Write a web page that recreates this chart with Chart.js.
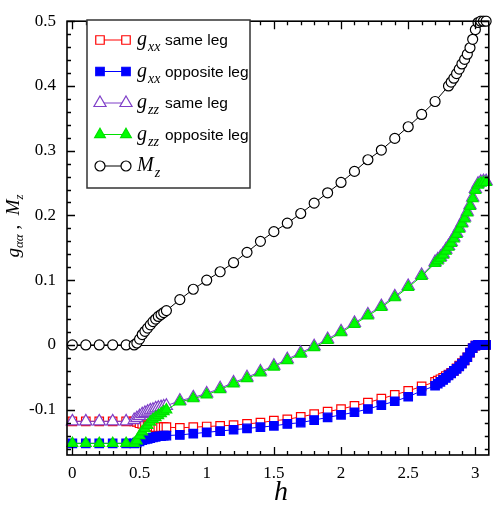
<!DOCTYPE html>
<html>
<head>
<meta charset="utf-8">
<script src="https://cdn.jsdelivr.net/npm/chart.js@4/dist/chart.umd.min.js"></script>
<style>
  html, body { margin: 0; padding: 0; background: #ffffff; }
  #wrap { width: 497px; height: 508px; }
</style>
</head>
<body>
<div id="wrap"><canvas id="c" width="497" height="508"></canvas></div>
<script>
// Field h for the correlation curves
const hG = [0, 0.1, 0.2, 0.3, 0.4,
  0.46, 0.48, 0.5, 0.52, 0.54, 0.56, 0.58, 0.6, 0.62, 0.64, 0.66, 0.68, 0.7,
  0.8, 0.9, 1.0, 1.1, 1.2, 1.3, 1.4, 1.5, 1.6, 1.7, 1.8, 1.9, 2.0, 2.1, 2.2, 2.3, 2.4, 2.5, 2.6, 2.7,
  2.72, 2.74, 2.76, 2.78, 2.8, 2.82, 2.84, 2.86, 2.88, 2.9, 2.92, 2.94, 2.96, 2.98, 3.0, 3.02, 3.04, 3.06, 3.08];

const gxxSame = [-0.118, -0.118, -0.118, -0.118, -0.118,
  -0.118, -0.119, -0.121, -0.122, -0.124, -0.125, -0.126, -0.126, -0.127, -0.127, -0.127, -0.127, -0.127,
  -0.128, -0.127, -0.126, -0.125, -0.124, -0.122, -0.120, -0.117, -0.115, -0.111, -0.107, -0.103, -0.099, -0.094, -0.089, -0.083, -0.077, -0.071, -0.064, -0.057,
  -0.055, -0.053, -0.051, -0.048, -0.046, -0.043, -0.040, -0.036, -0.032, -0.028, -0.024, -0.019, -0.012, -0.005, -0.001, 0, 0, 0, 0];

const gxxOpp = [-0.152, -0.152, -0.152, -0.152, -0.152,
  -0.152, -0.151, -0.149, -0.147, -0.146, -0.145, -0.144, -0.143, -0.142, -0.141, -0.141, -0.140, -0.140,
  -0.139, -0.137, -0.135, -0.133, -0.131, -0.129, -0.127, -0.125, -0.122, -0.120, -0.116, -0.112, -0.108, -0.104, -0.099, -0.093, -0.087, -0.080, -0.071, -0.063,
  -0.060, -0.057, -0.054, -0.051, -0.047, -0.044, -0.040, -0.037, -0.033, -0.029, -0.024, -0.019, -0.012, -0.005, -0.001, 0, 0, 0, 0];

const gzzSame = [-0.118, -0.118, -0.118, -0.118, -0.118,
  -0.116, -0.113, -0.110, -0.107, -0.105, -0.103, -0.101, -0.100, -0.098, -0.097, -0.096, -0.095, -0.094,
  -0.086, -0.081, -0.075, -0.067, -0.058, -0.050, -0.041, -0.032, -0.022, -0.012, -0.002, 0.009, 0.021, 0.034, 0.047, 0.060, 0.075, 0.091, 0.108, 0.128,
  0.132, 0.136, 0.141, 0.147, 0.153, 0.159, 0.166, 0.173, 0.181, 0.189, 0.197, 0.206, 0.216, 0.228, 0.241, 0.249, 0.252, 0.253, 0.253];

const gzzOpp = [-0.152, -0.152, -0.152, -0.152, -0.152,
  -0.152, -0.148, -0.140, -0.134, -0.129, -0.124, -0.119, -0.115, -0.112, -0.109, -0.106, -0.103, -0.100,
  -0.088, -0.083, -0.077, -0.069, -0.060, -0.052, -0.043, -0.034, -0.024, -0.014, -0.004, 0.007, 0.019, 0.032, 0.045, 0.058, 0.073, 0.089, 0.106, 0.126,
  0.130, 0.134, 0.139, 0.145, 0.151, 0.157, 0.164, 0.171, 0.179, 0.187, 0.195, 0.204, 0.214, 0.226, 0.239, 0.247, 0.250, 0.251, 0.251];

// Field h for the magnetization curve
const hM = [0, 0.1, 0.2, 0.3, 0.4,
  0.46, 0.48, 0.5, 0.52, 0.54, 0.56, 0.58, 0.6, 0.62, 0.64, 0.66, 0.68, 0.7,
  0.8, 0.9, 1.0, 1.1, 1.2, 1.3, 1.4, 1.5, 1.6, 1.7, 1.8, 1.9, 2.0, 2.1, 2.2, 2.3, 2.4, 2.5, 2.6, 2.7, 2.8,
  2.82, 2.84, 2.86, 2.88, 2.9, 2.92, 2.94, 2.96, 2.98, 3.0, 3.02, 3.04, 3.06, 3.08];

const Mz = [0, 0, 0, 0, 0,
  0, 0.003, 0.009, 0.016, 0.021, 0.026, 0.031, 0.036, 0.040, 0.044, 0.047, 0.050, 0.053,
  0.070, 0.086, 0.100, 0.113, 0.127, 0.143, 0.160, 0.175, 0.188, 0.203, 0.219, 0.235, 0.251, 0.268, 0.286, 0.301, 0.319, 0.337, 0.356, 0.376, 0.400,
  0.406, 0.412, 0.419, 0.426, 0.434, 0.441, 0.449, 0.459, 0.472, 0.487, 0.498, 0.500, 0.500, 0.500];

// Axis tick labels
const xTickValues = [0, 0.5, 1, 1.5, 2, 2.5, 3];
const yTickValues = [-0.1, 0, 0.1, 0.2, 0.3, 0.4, 0.5];

const pts = (xs, ys) => xs.map((v, i) => ({ x: v, y: ys[i] }));

const series = [
  { key: 'gxxSame', sym: 'g', sub: 'xx', text: 'same leg', xs: hG, ys: gxxSame,
    color: '#ff0000', fill: '#ffffff', style: 'rect', r: 6, order: 5 },
  { key: 'gxxOpp', sym: 'g', sub: 'xx', text: 'opposite leg', xs: hG, ys: gxxOpp,
    color: '#0000ff', fill: '#0000ff', style: 'rect', r: 6, order: 4 },
  { key: 'gzzSame', sym: 'g', sub: 'zz', text: 'same leg', xs: hG, ys: gzzSame,
    color: '#7f3fc8', fill: '#ffffff', style: 'triangle', r: 7, order: 3 },
  { key: 'gzzOpp', sym: 'g', sub: 'zz', text: 'opposite leg', xs: hG, ys: gzzOpp,
    color: '#00e000', fill: '#00ff00', style: 'triangle', r: 6.2, order: 2 },
  { key: 'Mz', sym: 'M', sub: 'z', text: '', xs: hM, ys: Mz,
    color: '#000000', fill: '#ffffff', style: 'circle', r: 5, order: 1 }
];

const SERIF = '"Liberation Serif", "Times New Roman", serif';
const SANS = '"Liberation Sans", Arial, sans-serif';

// Frame, inward ticks on all four sides, zero line, axis titles and legend
const decorations = {
  id: 'decorations',
  beforeDatasetsDraw(chart) {
    const { ctx, chartArea: a, scales: { y } } = chart;
    const y0 = Math.round(y.getPixelForValue(0)) + 0.5;
    ctx.save();
    ctx.strokeStyle = '#000';
    ctx.lineWidth = 1;
    ctx.beginPath();
    ctx.moveTo(a.left, y0);
    ctx.lineTo(a.right, y0);
    ctx.stroke();
    ctx.restore();
  },
  afterDatasetsDraw(chart) {
    const { ctx, chartArea: a, scales: { x, y } } = chart;
    ctx.save();
    ctx.strokeStyle = '#000';
    ctx.lineWidth = 1.3;
    // ticks along x (every 0.1, long every 0.5)
    for (let i = 0; i <= 31; i++) {
      const px = Math.round(x.getPixelForValue(i / 10)) + 0.5;
      if (px < a.left || px > a.right) continue;
      const len = i % 5 === 0 ? 8 : 4;
      ctx.beginPath();
      ctx.moveTo(px, a.bottom); ctx.lineTo(px, a.bottom - len);
      ctx.moveTo(px, a.top); ctx.lineTo(px, a.top + len);
      ctx.stroke();
    }
    // ticks along y (every 0.02, long every 0.1)
    for (let i = -8; i <= 25; i++) {
      const py = Math.round(y.getPixelForValue(i * 0.02)) + 0.5;
      if (py < a.top || py > a.bottom) continue;
      const len = i % 5 === 0 ? 8 : 4;
      ctx.beginPath();
      ctx.moveTo(a.left, py); ctx.lineTo(a.left + len, py);
      ctx.moveTo(a.right, py); ctx.lineTo(a.right - len, py);
      ctx.stroke();
    }
    // frame
    ctx.lineWidth = 1.6;
    ctx.strokeRect(a.left, a.top, a.right - a.left, a.bottom - a.top);

    // x title
    ctx.fillStyle = '#000';
    ctx.font = 'italic 28px ' + SERIF;
    ctx.textAlign = 'center';
    ctx.textBaseline = 'alphabetic';
    ctx.fillText('h', 281, 500);

    // y title, rotated
    ctx.save();
    ctx.translate(19, 226);
    ctx.rotate(-Math.PI / 2);
    const parts = [
      { t: 'g', f: 'italic 19px ' + SERIF, dy: 0 },
      { t: 'αα', f: 'italic 13px ' + SERIF, dy: 4 },
      { t: ' ,  ', f: '19px ' + SERIF, dy: 0 },
      { t: 'M', f: 'italic 19px ' + SERIF, dy: 0 },
      { t: 'z', f: 'italic 13px ' + SERIF, dy: 4 }
    ];
    let total = 0;
    parts.forEach(p => { ctx.font = p.f; p.w = ctx.measureText(p.t).width; total += p.w; });
    let cx = -total / 2;
    ctx.textAlign = 'left';
    parts.forEach(p => { ctx.font = p.f; ctx.fillText(p.t, cx, p.dy); cx += p.w; });
    ctx.restore();

    // legend
    const box = { l: 87, t: 20, r: 250, b: 188 };
    ctx.fillStyle = '#ffffff';
    ctx.fillRect(box.l, box.t, box.r - box.l, box.b - box.t);
    ctx.strokeStyle = '#333';
    ctx.lineWidth = 1.5;
    ctx.strokeRect(box.l, box.t, box.r - box.l, box.b - box.t);
    const rowY = [40, 71.5, 103, 134.5, 166];
    series.forEach((s, i) => {
      const yy = rowY[i];
      ctx.strokeStyle = s.color;
      ctx.lineWidth = 1;
      ctx.beginPath();
      ctx.moveTo(100, yy); ctx.lineTo(126, yy);
      ctx.stroke();
      [100, 126].forEach(mx => {
        ctx.fillStyle = s.fill;
        ctx.strokeStyle = s.color;
        ctx.lineWidth = 1.2;
        Chart.helpers.drawPoint(ctx, { pointStyle: s.style, radius: s.r, rotation: 0, borderWidth: 1.2 }, mx, yy);
      });
      ctx.fillStyle = '#000';
      ctx.textAlign = 'left';
      ctx.textBaseline = 'alphabetic';
      ctx.font = 'italic 20px ' + SERIF;
      ctx.fillText(s.sym, 137, yy + 5);
      const w = ctx.measureText(s.sym).width;
      ctx.font = 'italic 14px ' + SERIF;
      ctx.fillText(s.sub, 137 + w + 1, yy + 11);
      if (s.text) {
        ctx.font = '15.5px ' + SANS;
        ctx.fillText(s.text, 165, yy + 5);
      }
    });
    ctx.restore();
  }
};

new Chart(document.getElementById('c'), {
  type: 'scatter',
  data: {
    datasets: series.map(s => ({
      label: s.key,
      data: pts(s.xs, s.ys),
      showLine: true,
      borderColor: s.color,
      borderWidth: 1,
      backgroundColor: s.fill,
      pointStyle: s.style,
      pointRadius: s.r,
      pointBorderWidth: 1.2,
      pointBorderColor: s.color,
      pointBackgroundColor: s.fill,
      order: s.order,
      clip: 6
    }))
  },
  options: {
    responsive: false,
    animation: false,
    devicePixelRatio: 1,
    layout: { padding: { left: 0, right: 2, top: 7, bottom: 0 } },
    plugins: { legend: { display: false }, tooltip: { enabled: false } },
    scales: {
      x: {
        type: 'linear', min: -0.04, max: 3.1,
        grid: { display: false, drawTicks: false },
        border: { display: false },
        afterFit(scale) { scale.height = 53; },
        afterBuildTicks(scale) { scale.ticks = xTickValues.map(v => ({ value: v })); },
        ticks: {
          color: '#000', padding: 8,
          font: { family: SERIF, size: 17 },
          callback: v => String(v)
        }
      },
      y: {
        type: 'linear', min: -0.17, max: 0.5,
        grid: { display: false, drawTicks: false },
        border: { display: false },
        afterFit(scale) { scale.width = 67; },
        afterBuildTicks(scale) { scale.ticks = yTickValues.map(v => ({ value: v })); },
        ticks: {
          color: '#000', padding: 11,
          font: { family: SERIF, size: 17 },
          callback: v => String(v)
        }
      }
    }
  },
  plugins: [decorations]
});
</script>
</body>
</html>
